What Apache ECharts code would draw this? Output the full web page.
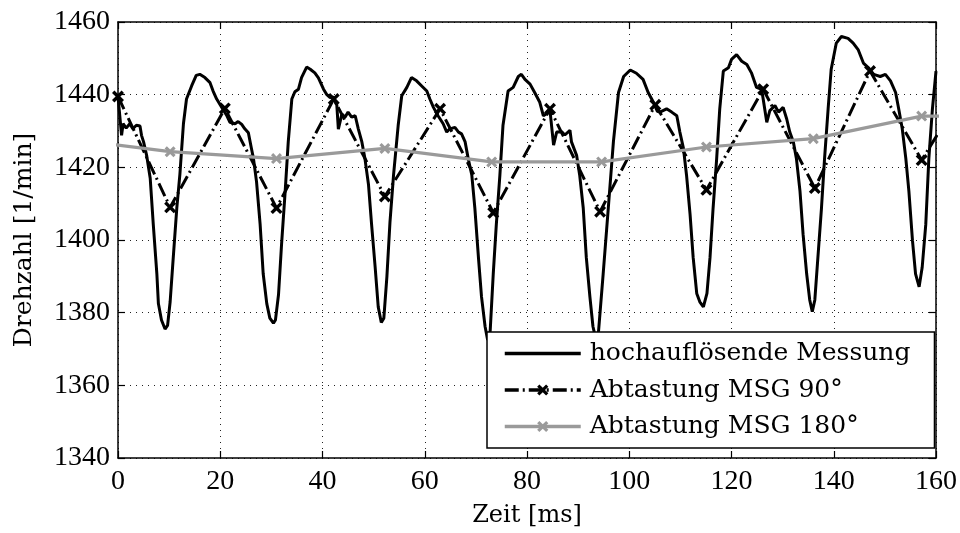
<!DOCTYPE html>
<html>
<head>
<meta charset="utf-8">
<script src="https://cdn.jsdelivr.net/npm/echarts@6/dist/echarts.min.js"></script>
<style>
html,body{margin:0;padding:0;background:#fff;}
#chart{width:960px;height:533px;}
</style>
</head>
<body>
<div id="chart"></div>
<script>
// ---- data ----
const timeHigh = [0,0.7,1.0,1.6,2.3,2.9,3.6,4.3,4.6,5.0,5.6,6.3,6.9,7.6,7.9,8.5,9.2,9.7,10.2,10.8,11.5,12.1,12.8,13.4,14.4,15.3,16.0,17.0,18.0,18.6,19.3,20.3,21.3,21.9,22.9,23.5,24.2,24.8,25.5,26.1,26.5,27.1,27.8,28.4,29.1,29.7,30.4,30.8,31.4,32.0,32.7,33.3,34.0,34.6,35.3,35.9,36.9,37.6,38.5,39.2,40.2,40.8,41.5,42.1,42.8,43.1,43.8,44.4,45.0,45.7,46.4,47.0,47.7,48.3,49.0,49.6,50.3,50.9,51.5,52.0,52.6,53.2,53.9,54.8,55.5,56.5,57.4,58.4,59.4,60.4,61.0,61.7,62.6,63.6,64.3,64.9,65.9,66.6,67.2,67.9,68.5,69.2,69.8,70.5,71.1,71.8,72.3,72.8,73.4,74.0,74.7,75.3,76.3,77.3,78.3,78.9,79.6,80.6,81.5,82.5,83.2,83.9,84.5,85.2,85.8,86.8,87.4,88.4,88.7,89.7,90.3,91.0,91.6,92.3,92.9,93.5,94.0,94.9,95.9,96.9,97.9,98.9,100.2,101.4,102.7,103.7,104.7,105.5,106.0,107.3,108.3,109.3,109.9,110.6,111.2,111.9,112.5,113.2,113.8,114.5,115.2,115.8,116.4,117.1,117.7,118.4,119.4,120.0,121.0,122.0,123.0,123.9,124.9,125.9,126.9,127.5,128.5,129.2,130.1,130.8,131.4,132.1,132.7,133.4,134.0,134.7,135.3,135.8,136.3,136.9,137.6,138.2,138.9,139.5,140.5,141.5,142.8,143.8,144.8,145.8,146.8,147.8,149.1,150.1,151.1,152.1,152.7,153.4,154.1,154.7,155.4,156.0,156.7,157.3,158.0,158.6,159.3,160.0];
const rpmHigh = [1439.5,1428.8,1432.0,1430.8,1432.0,1430.6,1431.6,1431.4,1428.8,1427.0,1423.3,1417.0,1404.3,1390.7,1382.5,1378.0,1375.5,1376.5,1383.0,1395.0,1408.8,1418.0,1432.0,1438.8,1442.4,1445.3,1445.6,1444.7,1443.3,1441.0,1438.8,1436.5,1434.2,1432.4,1432.0,1432.6,1431.8,1430.6,1429.5,1425.2,1422.4,1416.0,1404.3,1390.7,1382.5,1378.5,1377.1,1378.0,1385.0,1399.0,1413.4,1427.0,1438.8,1440.8,1441.5,1444.7,1447.6,1447.0,1446.0,1444.6,1441.5,1440.1,1439.2,1439.4,1437.1,1430.5,1434.7,1433.8,1435.2,1433.8,1434.2,1430.6,1427.0,1422.4,1415.2,1404.3,1392.5,1381.6,1377.3,1378.5,1390.0,1405.0,1417.9,1431.5,1439.7,1442.0,1444.7,1443.8,1442.4,1441.0,1438.8,1436.5,1434.2,1432.0,1429.7,1430.6,1431.0,1429.7,1429.2,1427.0,1422.4,1417.9,1408.8,1395.2,1384.4,1376.2,1372.5,1375.0,1390.7,1404.3,1417.9,1431.5,1441.0,1442.0,1445.0,1445.6,1444.2,1442.9,1440.6,1437.9,1434.2,1434.8,1435.6,1426.1,1429.7,1429.8,1428.9,1430.2,1427.0,1423.3,1417.9,1408.8,1395.2,1384.4,1376.2,1372.5,1375.0,1390.7,1408.8,1427.0,1440.6,1445.0,1446.8,1445.9,1444.2,1440.6,1438.0,1435.4,1435.2,1436.1,1435.2,1434.2,1429.7,1425.2,1417.9,1407.0,1395.2,1385.3,1383.0,1381.6,1385.3,1395.2,1408.8,1422.4,1436.1,1446.5,1447.4,1449.7,1451.0,1449.2,1448.3,1446.0,1442.0,1441.5,1432.4,1435.6,1437.0,1435.2,1436.5,1433.3,1429.7,1427.0,1422.4,1413.4,1401.6,1390.7,1383.5,1380.3,1383.5,1395.2,1408.8,1422.4,1436.1,1447.0,1454.2,1456.0,1455.5,1454.2,1452.3,1448.7,1447.4,1445.6,1445.0,1445.6,1443.8,1440.6,1436.1,1430.6,1422.4,1413.4,1399.8,1390.7,1387.1,1392.5,1404.3,1422.4,1436.1,1446.5];

const time90 = [0,10.2,20.9,31.0,42.2,52.2,63.0,73.4,84.5,94.3,105.1,115.1,126.2,136.3,147.1,157.2,167.7];
const rpm90  = [1439.5,1409.0,1436.2,1408.8,1438.8,1412.0,1436.1,1407.5,1436.1,1407.8,1437.2,1413.8,1441.5,1414.3,1446.5,1422.0,1446.0];

const time180 = [-10.8,10.2,31.0,52.2,73.1,94.6,115.1,136.0,157.2,178.0];
const rpm180  = [1428.0,1424.3,1422.4,1425.2,1421.5,1421.5,1425.6,1427.9,1434.1,1434.0];

const seriesNames = ['hochauflösende Messung','Abtastung MSG 90°','Abtastung MSG 180°'];
const xRange = {min:0, max:160, step:20};
const yRange = {min:1340, max:1460, step:20};

// ---- chart ----
const TICKFONT = "'Liberation Serif', serif";
const FONT = "'DejaVu Serif', serif";
const xMark = 'path://M2,0 L5,3 L8,0 L10,2 L7,5 L10,8 L8,10 L5,7 L2,10 L0,8 L3,5 L0,2 Z';
const zip = (a,b) => a.map((t,i) => [t,b[i]]);

const axisBase = (pos, showLabel, showSplit, range, margin) => ({
  type:'value', position:pos, min:range.min, max:range.max, interval:range.step,
  axisLine:{show:true, onZero:false, lineStyle:{color:'#000', width:1.5}},
  axisTick:{show:true, inside:true, length:7, lineStyle:{color:'#000', width:1.2}},
  axisLabel:{show:showLabel, color:'#000', fontSize:28, fontFamily:TICKFONT, margin:margin,
    formatter:(v) => String(v)},
  splitLine:{show:showSplit, lineStyle:{color:'#222', width:1, type:[1,5]}}
});

const chart = echarts.init(document.getElementById('chart'), null, {renderer:'canvas'});
chart.setOption({
  animation:false,
  backgroundColor:'#fff',
  grid:{left:118, right:24, top:22, bottom:70, containLabel:false},
  xAxis:[
    Object.assign(axisBase('bottom', true, true, xRange, 10), {name:'Zeit [ms]', nameLocation:'middle', nameGap:46,
      nameTextStyle:{color:'#000', fontSize:24, fontFamily:FONT}}),
    axisBase('top', false, false, xRange, 8)
  ],
  yAxis:[
    Object.assign(axisBase('left', true, true, yRange, 8), {name:'Drehzahl [1/min]', nameLocation:'middle', nameGap:81,
      nameTextStyle:{color:'#000', fontSize:25, fontFamily:FONT}}),
    axisBase('right', false, false, yRange, 8)
  ],
  legend:{
    orient:'vertical', left:487, top:332,
    backgroundColor:'#fff', borderColor:'#000', borderWidth:1.5, borderRadius:0,
    padding:[9, 24, 9, 16],
    itemWidth:76, itemHeight:14, itemGap:11.5,
    lineStyle:{width:3.5},
    textStyle:{color:'#000', fontSize:25, fontFamily:FONT, lineHeight:25, padding:[0,0,0,4]},
    data:[
      {name:seriesNames[0], itemStyle:{color:'rgba(0,0,0,0)', borderColor:'rgba(0,0,0,0)', borderWidth:0}},
      {name:seriesNames[1]},
      {name:seriesNames[2]}
    ]
  },
  series:[
    {name:seriesNames[0], type:'line', data:zip(timeHigh, rpmHigh), symbol:'none', clip:true,
     lineStyle:{color:'#000', width:3}, itemStyle:{color:'#000'}},
    {name:seriesNames[1], type:'line', data:zip(time90, rpm90), symbol:xMark, symbolSize:12, clip:true,
     lineStyle:{color:'#000', width:3, type:[14,4,2,4]}, itemStyle:{color:'#000'}},
    {name:seriesNames[2], type:'line', data:zip(time180, rpm180), symbol:xMark, symbolSize:11, clip:true,
     lineStyle:{color:'#9a9a9a', width:3.2}, itemStyle:{color:'#9a9a9a'}}
  ]
});
</script>
</body>
</html>
